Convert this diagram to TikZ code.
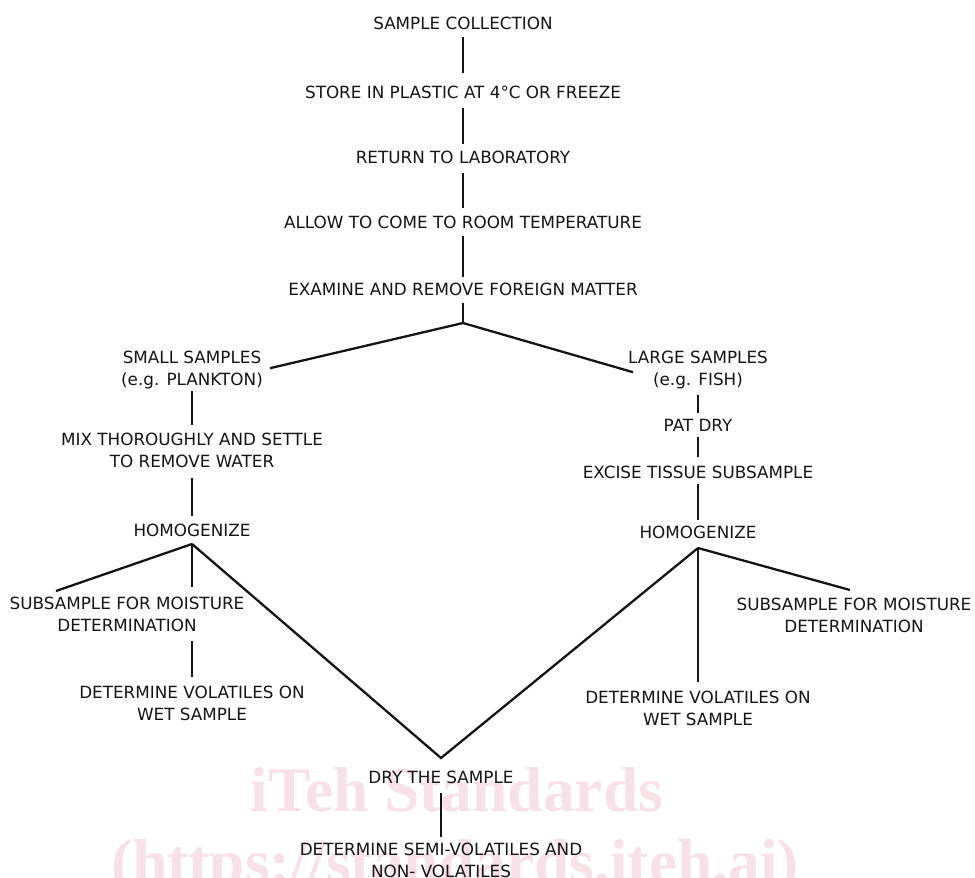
\documentclass[tikz,border=0pt]{standalone}
\usepackage{fontspec}
\setmainfont{DejaVu Sans}
\newfontfamily\wmfont{Liberation Serif}[BoldFont={Liberation Serif Bold}]
\definecolor{wmpink}{RGB}{248,224,231}
\definecolor{ink}{RGB}{20,20,20}
\tikzset{
  lbl/.style={anchor=north, inner sep=0pt, align=center, text=ink,
    font=\fontsize{16.8pt}{22pt}\selectfont},
  ln/.style={draw=ink, line width=2.3pt},
  wm/.style={anchor=base, inner sep=0pt, text=wmpink,
    font=\wmfont\bfseries\fontsize{63.5pt}{72pt}\selectfont}
}
\begin{document}
\begin{tikzpicture}[x=1pt,y=-1pt]
\useasboundingbox (0,0) rectangle (975,878);
% watermark
\node[wm] (wm1) at (457,811) {iTeh Standards};
\node[wm] (wm2) at (455,883) {(https://standards.iteh.ai)};
% text nodes
\node[lbl] (sc) at (463,17) {SAMPLE COLLECTION};
\node[lbl] (st) at (463,86) {STORE IN PLASTIC AT 4°C OR FREEZE};
\node[lbl] (rl) at (463,151) {RETURN TO LABORATORY};
\node[lbl] (ar) at (463,216) {ALLOW TO COME TO ROOM TEMPERATURE};
\node[lbl] (ex) at (463,283) {EXAMINE AND REMOVE FOREIGN MATTER};
\node[lbl] (ss) at (192,351) {SMALL SAMPLES\\(e.g. PLANKTON)};
\node[lbl] (ls) at (698,351) {LARGE SAMPLES\\(e.g. FISH)};
\node[lbl] (mx) at (192,433) {MIX THOROUGHLY AND SETTLE\\TO REMOVE WATER};
\node[lbl] (hl) at (192,524) {HOMOGENIZE};
\node[lbl] (pd) at (698,419) {PAT DRY};
\node[lbl] (et) at (698,466) {EXCISE TISSUE SUBSAMPLE};
\node[lbl] (hr) at (698,526) {HOMOGENIZE};
\node[lbl] (sml) at (127,597) {SUBSAMPLE FOR MOISTURE\\DETERMINATION};
\node[lbl] (smr) at (854,598) {SUBSAMPLE FOR MOISTURE\\DETERMINATION};
\node[lbl] (dvl) at (192,686) {DETERMINE VOLATILES ON\\WET SAMPLE};
\node[lbl] (dvr) at (698,691) {DETERMINE VOLATILES ON\\WET SAMPLE};
\node[lbl] (dry) at (441,771) {DRY THE SAMPLE};
\node[lbl] (dsv) at (441,843) {DETERMINE SEMI-VOLATILES AND\\NON- VOLATILES};
% junctions
\coordinate (j1) at (463,323);
\coordinate (j2) at (192,544);
\coordinate (j3) at (441,758);
\coordinate (j4) at (698,548);
% main column
\draw[ln] ([yshift=-6.7pt]sc.south) -- ([yshift=13pt]st.north);
\draw[ln] ([yshift=-8.7pt]st.south) -- ([yshift=7pt]rl.north);
\draw[ln] ([yshift=-8.7pt]rl.south) -- ([yshift=8pt]ar.north);
\draw[ln] ([yshift=-6.7pt]ar.south) -- ([yshift=6pt]ex.north);
\draw[ln] ([yshift=-6.7pt]ex.south) -- (j1);
\draw[ln] ([xshift=7pt,yshift=2pt]ss.east) -- (j1) -- ([xshift=5pt,yshift=-2pt]ls.west);
% left branch
\draw[ln] ([yshift=-1.5pt]ss.south) -- ([yshift=8pt]mx.north);
\draw[ln] ([yshift=-9.7pt]mx.south) -- ([yshift=8pt]hl.north);
\draw[ln] ([xshift=-71pt,yshift=6pt]sml.north) -- (j2);
\draw[ln] (j2) -- ([yshift=10pt]sml.north -| j2);
\draw[ln] ([yshift=-8.7pt]sml.south -| j2) -- ([yshift=9pt]dvl.north -| j2);
% right branch
\draw[ln] ([yshift=-5.2pt]ls.south) -- ([yshift=6pt]pd.north);
\draw[ln] ([yshift=-5.7pt]pd.south) -- ([yshift=9pt]et.north);
\draw[ln] ([yshift=-4.7pt]et.south) -- ([yshift=6pt]hr.north);
\draw[ln] (j4) -- ([xshift=-4pt,yshift=8pt]smr.north);
\draw[ln] (j4) -- ([yshift=9pt]dvr.north);
% converge to dry
\draw[ln] (j2) -- (j3) -- (j4);
\draw[ln] ([yshift=-8.7pt]dry.south) -- ([yshift=6pt]dsv.north);
\end{tikzpicture}
\end{document}
